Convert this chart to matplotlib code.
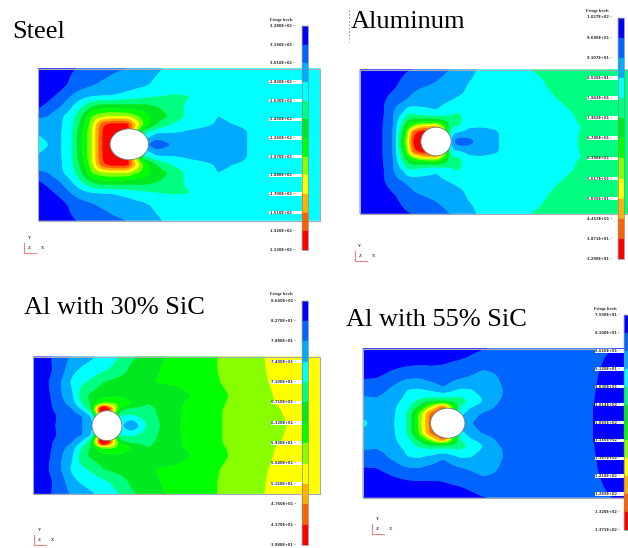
import numpy as np
import matplotlib
matplotlib.use("Agg")
import matplotlib.pyplot as plt
from matplotlib.patches import Ellipse, Rectangle

# ---------- colours (one per fringe band, blue = lowest) ----------
band_colors = ["#0000ff", "#0064ff", "#00aaff", "#00ffff", "#00ff80", "#00e820",
               "#00ff00", "#88ff00", "#ffff00", "#ffb000", "#ff6000", "#ff0000"]
band_edges = list(range(1, 12))

# ---------- Steel field (fringe band units), upper half of the plate ----------
steel_x = [115, 145, 185, 215, 245, 275, 305, 335, 380, 430, 470, 520, 570, 650, 740, 960]
steel_d = [0, 40, 60, 85, 110, 145, 180, 228]
steel_values = [
    [3.4, 3.0, 2.95, 3.9, 6.0, 7.8, 10.9, 12.5, 12.0, 2.3, 1.1, 2.1, 2.4, 2.5, 3.0, 3.3],
    [2.8, 2.6, 2.95, 3.9, 5.8, 7.8, 10.9, 12.2, 11.8, 4.5, 3.3, 3.1, 2.9, 2.7, 3.0, 3.3],
    [2.35, 2.5, 2.9, 3.8, 5.4, 7.5, 10.7, 11.6, 11.6, 7.0, 5.0, 3.8, 3.3, 2.95, 3.05, 3.3],
    [1.8, 2.0, 2.9, 3.5, 5.0, 7.0, 7.6, 7.8, 7.8, 6.5, 5.5, 4.8, 3.5, 3.0, 3.05, 3.3],
    [0.9, 1.3, 2.1, 3.0, 4.05, 5.2, 5.9, 5.9, 5.7, 5.6, 5.1, 4.5, 3.7, 3.0, 3.05, 3.3],
    [0.4, 0.7, 1.3, 2.05, 2.6, 2.9, 2.95, 3.0, 3.3, 3.7, 3.95, 4.1, 4.05, 3.2, 3.1, 3.3],
    [0.2, 0.3, 0.7, 1.2, 1.55, 1.85, 2.15, 2.3, 2.5, 2.8, 3.2, 3.4, 3.3, 3.2, 3.15, 3.3],
    [0.0, 0.2, 0.5, 0.9, 1.1, 1.3, 1.5, 1.8, 2.0, 2.5, 2.85, 3.3, 3.3, 3.2, 3.2, 3.3],
]

# ---------- Aluminum field ----------
alum_x = [90, 125, 160, 190, 205, 220, 235, 250, 275, 320, 365, 385, 415, 450, 507, 560, 603, 680, 743, 800, 895]
alum_d = [0, 30, 45, 60, 85, 120, 160, 216]
alum_values = [
    [0.2, 0.5, 1.0, 2.0, 3.9, 6.0, 8.5, 11.3, 12.5, 12.0, 2.3, 1.1, 1.5, 2.4, 3.0, 3.3, 3.5, 3.7, 4.0, 4.2, 4.4],
    [0.2, 0.5, 1.0, 2.0, 3.7, 5.2, 7.6, 10.6, 11.5, 12.0, 3.3, 3.1, 2.7, 2.7, 3.0, 3.3, 3.5, 3.7, 3.98, 4.2, 4.4],
    [0.2, 0.5, 1.0, 1.95, 3.4, 4.7, 6.4, 7.5, 9.0, 9.5, 4.0, 4.0, 3.1, 3.05, 3.1, 3.3, 3.5, 3.7, 3.95, 4.2, 4.4],
    [0.2, 0.5, 0.97, 1.9, 3.1, 4.2, 5.2, 5.6, 5.9, 6.0, 4.5, 4.4, 3.2, 3.1, 3.2, 3.3, 3.5, 3.7, 4.02, 4.2, 4.4],
    [0.2, 0.5, 0.9, 1.9, 2.7, 3.0, 3.95, 3.8, 3.4, 3.1, 3.8, 4.1, 3.4, 3.1, 3.2, 3.3, 3.5, 3.8, 4.05, 4.2, 4.4],
    [0.2, 0.45, 0.9, 1.5, 1.75, 1.97, 2.2, 2.4, 2.65, 2.7, 3.05, 3.2, 3.2, 3.25, 3.3, 3.4, 3.5, 3.95, 4.2, 4.3, 4.4],
    [0.1, 0.3, 0.55, 0.9, 1.1, 1.3, 1.5, 1.8, 2.0, 2.2, 2.5, 2.7, 3.1, 3.25, 3.3, 3.5, 3.7, 4.15, 4.3, 4.35, 4.4],
    [0.0, 0.15, 0.3, 0.55, 0.7, 0.85, 0.95, 1.0, 1.25, 1.65, 2.05, 2.3, 2.75, 3.1, 3.4, 3.7, 4.0, 4.25, 4.35, 4.4, 4.4],
]

# ---------- Al with 30% SiC field ----------
sic30_x = [100, 155, 185, 215, 245, 275, 310, 360, 395, 440, 490, 540, 600, 660, 730, 790, 850, 960]
sic30_d = [0, 30, 50, 65, 90, 130, 165, 206]
sic30_values = [
    [0.2, 0.8, 1.3, 1.6, 1.9, 2.6, 3.0, 3.3, 1.7, 4.05, 5.2, 6.0, 6.5, 6.95, 7.4, 7.7, 7.97, 8.3],
    [0.2, 0.75, 1.25, 1.6, 1.9, 3.0, 12.0, 3.9, 3.9, 4.5, 5.3, 5.95, 6.5, 6.95, 7.4, 7.65, 8.0, 8.2],
    [0.2, 0.95, 1.4, 1.85, 3.0, 5.0, 15.0, 5.5, 4.6, 4.7, 5.3, 5.95, 6.45, 6.95, 7.35, 7.6, 8.05, 8.3],
    [0.2, 0.95, 1.7, 2.4, 4.0, 5.3, 7.0, 7.0, 6.1, 5.0, 5.3, 5.95, 6.4, 6.9, 7.3, 7.7, 8.2, 8.3],
    [0.2, 1.05, 1.95, 2.7, 4.6, 5.3, 5.7, 5.8, 5.3, 5.0, 5.0, 5.6, 6.3, 6.85, 7.25, 7.7, 8.3, 8.4],
    [0.2, 1.15, 2.05, 3.15, 3.8, 4.2, 5.0, 5.5, 5.8, 5.95, 6.1, 6.3, 6.5, 7.0, 7.3, 7.9, 8.3, 8.5],
    [0.2, 0.95, 1.6, 2.7, 3.2, 3.5, 3.85, 4.45, 5.3, 5.6, 6.1, 6.3, 6.6, 7.05, 7.5, 7.95, 8.3, 8.5],
    [0.2, 1.0, 1.5, 2.1, 2.45, 2.85, 3.3, 4.05, 4.8, 5.35, 5.95, 6.3, 6.65, 7.05, 7.55, 7.98, 8.3, 8.5],
]

# ---------- Al with 55% SiC field ----------
sic55_x = [99, 140, 195, 230, 250, 270, 300, 340, 390, 425, 460, 505, 530, 600, 700, 790, 850, 895]
sic55_d = [0, 30, 50, 65, 80, 105, 145, 190, 224]
sic55_values = [
    [3.3, 2.5, 3.0, 4.0, 5.5, 7.5, 10.4, 10.0, 2.0, 2.0, 1.6, 1.4, 1.3, 1.2, 1.1, 1.0, 0.8, 0.6],
    [2.6, 2.3, 2.95, 3.95, 5.3, 7.3, 10.2, 11.5, 3.5, 2.3, 1.9, 1.55, 1.3, 1.2, 1.1, 1.0, 0.8, 0.6],
    [2.4, 2.2, 2.9, 3.6, 4.3, 5.2, 7.5, 10.5, 3.9, 3.05, 2.5, 1.85, 1.4, 1.25, 1.1, 1.0, 0.8, 0.6],
    [2.25, 2.1, 2.7, 3.5, 3.9, 4.4, 4.9, 5.0, 4.6, 3.7, 2.9, 2.0, 1.6, 1.3, 1.1, 1.01, 0.8, 0.6],
    [2.0, 1.95, 2.35, 3.2, 3.5, 3.6, 3.8, 3.6, 3.95, 3.3, 2.9, 2.2, 1.75, 1.3, 1.1, 1.01, 0.82, 0.6],
    [1.6, 1.55, 2.2, 2.9, 2.95, 2.95, 2.6, 2.0, 2.9, 2.95, 2.45, 2.15, 1.85, 1.3, 1.1, 1.02, 0.85, 0.6],
    [0.7, 0.8, 1.3, 1.55, 1.6, 1.6, 1.35, 1.3, 1.6, 1.95, 2.3, 1.95, 1.5, 1.2, 1.05, 1.03, 0.9, 0.55],
    [0.3, 0.35, 0.45, 0.55, 0.6, 0.65, 0.75, 0.85, 0.98, 1.1, 1.3, 1.4, 1.35, 1.2, 1.05, 1.05, 0.95, 0.5],
    [0.2, 0.2, 0.25, 0.3, 0.35, 0.4, 0.5, 0.6, 0.75, 0.85, 0.95, 1.1, 1.15, 1.15, 1.05, 1.05, 1.0, 0.8],
]

# ---------- text ----------
heading = "Fringe levels"
steel_labels = ["3.380E+02", "3.190E+02", "3.010E+02", "2.820E+02", "2.630E+02", "2.450E+02", "2.260E+02",
                "2.070E+02", "1.880E+02", "1.700E+02", "1.510E+02", "1.320E+02", "1.130E+02"]
alum_labels = ["1.027E+02", "9.689E+01", "9.107E+01", "8.525E+01", "7.943E+01", "7.362E+01", "6.780E+01",
               "6.198E+01", "5.617E+01", "5.035E+01", "4.453E+01", "3.871E+01", "3.290E+01"]
sic30_labels = ["8.660E+01", "8.270E+01", "7.880E+01", "7.490E+01", "7.100E+01", "6.710E+01", "6.320E+01",
                "5.930E+01", "5.540E+01", "5.150E+01", "4.760E+01", "4.370E+01", "3.980E+01"]
sic55_labels = ["7.590E+01", "8.100E+01", "8.610E+01", "9.120E+01", "9.630E+01", "1.014E+02", "1.065E+02",
                "1.116E+02", "1.167E+02", "1.218E+02", "1.269E+02", "1.320E+02", "1.371E+02"]

# ---------- layout (pixels of the picture) ----------
panels = [
    dict(title="Steel", tx=12, ty=38, ox=0, oy=0, c=433.5, xs=steel_x, ds=steel_d, vals=steel_values,
         hole=(129.3, 144.3, 19.3, 15.5), bar=(302, 308, 26, 250), lab_x=269.5, head=(269.5, 20), labels=steel_labels,
         triad=(24, 253)),
    dict(title="Aluminum", tx=351, ty=28, ox=330, oy=0, c=425, xs=alum_x, ds=alum_d, vals=alum_values,
         hole=(436, 141.5, 15.2, 14.3), bar=(617.5, 624, 17.5, 259), lab_x=587, head=(586, 11), labels=alum_labels,
         triad=(355, 261)),
    dict(title="Al with 30% SiC", tx=24, ty=314, ox=0, oy=278, c=442.5, xs=sic30_x, ds=sic30_d, vals=sic30_values,
         hole=(107, 425.7, 15, 15), bar=(302, 308, 300.5, 545), lab_x=271, head=(270, 294), labels=sic30_labels,
         triad=(34, 545)),
    dict(title="Al with 55% SiC", tx=346, ty=326, ox=330, oy=278, c=435.5, xs=sic55_x, ds=sic55_d, vals=sic55_values,
         hole=(447.7, 423.2, 17.3, 15), bar=(624, 630, 315, 530), lab_x=595, head=(594.5, 309), labels=sic55_labels,
         triad=(372, 534)),
]


def resample(xs, ys, field, kernel=7):
    """Put the hand-read table on a 1 px grid and soften the corners of the coarse cells."""
    fx = np.arange(xs[0], xs[-1] + 0.5, 1.0)
    fy = np.arange(ys[0], ys[-1] + 0.5, 1.0)
    a = np.array([np.interp(fx, xs, row) for row in field])
    b = np.array([np.interp(fy, ys, col) for col in a.T]).T
    k = np.hanning(kernel + 2)[1:-1]
    k = k / k.sum()
    pad = kernel // 2
    p = np.pad(b, pad, mode="edge")
    p = np.apply_along_axis(lambda r: np.convolve(r, k, mode="same"), 0, p)
    p = np.apply_along_axis(lambda r: np.convolve(r, k, mode="same"), 1, p)
    return fx, fy, p[pad:-pad, pad:-pad]


fig = plt.figure(figsize=(6.28, 5.48), dpi=100)
ax = fig.add_axes([0, 0, 1, 1])
ax.set_xlim(0, 628)
ax.set_ylim(548, 0)
ax.axis("off")

serif = "Liberation Serif"
for p in panels:
    half = np.array(p["vals"], dtype=float)
    d = np.array(p["ds"], dtype=float)
    field = np.vstack([half[::-1], half[1:]])
    ys = p["oy"] + (p["c"] + np.concatenate([-d[::-1], d[1:]])) / 3
    xs = p["ox"] + np.array(p["xs"], dtype=float) / 3
    fx, fy, ff = resample(xs, ys, field)
    cs = ax.contourf(fx, fy, ff, levels=band_edges, colors=band_colors, extend="both",
                     antialiased=True, zorder=1)
    cs.set_edgecolor("face")
    cs.set_linewidth(0.35)
    # plate outline
    ax.add_patch(Rectangle((xs[0], ys[0]), xs[-1] - xs[0], ys[-1] - ys[0], fill=False,
                           ec="#a8a8b4", lw=0.8, zorder=2))
    # hole
    hx, hy, rx, ry = p["hole"]
    ax.add_patch(Ellipse((hx, hy), 2 * rx, 2 * ry, fc="white", ec="#777777", lw=0.6, zorder=3))
    # fringe bar
    bx0, bx1, by0, by1 = p["bar"]
    seg = (by1 - by0) / 12
    for i, col in enumerate(band_colors):
        ax.bar((bx0 + bx1) / 2, seg, width=bx1 - bx0, bottom=by0 + i * seg, color=col,
               edgecolor=col, linewidth=0.2, zorder=5)
    ax.add_patch(Rectangle((bx0, by0), bx1 - bx0, by1 - by0, fill=False, ec="#8a8a8a", lw=0.5, zorder=6))
    # labels
    ax.text(p["head"][0], p["head"][1], heading, fontsize=3.1, fontweight="bold", family=serif,
            ha="left", va="center", color="#222222", zorder=7)
    for i, lab in enumerate(p["labels"]):
        ly = by0 + i * seg
        if ys[0] < ly < ys[-1]:
            ax.add_patch(Rectangle((p["lab_x"] - 0.5, ly - 1.8), bx0 - p["lab_x"] + 0.5, 3.6,
                                   fc="white", ec="none", zorder=4))
        ax.text(p["lab_x"], ly, lab + " -", fontsize=2.6, fontweight="bold", family="DejaVu Sans",
                ha="left", va="center", color="#333333", zorder=7)
    # title
    ax.text(p["tx"], p["ty"], p["title"], fontsize=19, family=serif, ha="left", va="baseline",
            color="black", zorder=8)
    # axis triad
    tx, ty = p["triad"]
    ax.plot([tx, tx, tx + 12], [ty - 10, ty, ty], color="#f08080", lw=0.8, zorder=7)
    ax.text(tx + 5, ty - 15, "Y", fontsize=3.2, fontweight="bold", family=serif, ha="center", va="center", color="#333333")
    ax.text(tx + 5, ty - 5, "Z", fontsize=3.2, fontweight="bold", family=serif, ha="center", va="center", color="#333333")
    ax.text(tx + 18, ty - 5, "X", fontsize=3.2, fontweight="bold", family=serif, ha="center", va="center", color="#333333")

ax.plot([349, 349], [10, 42], color="#555555", lw=0.5, ls=(0, (2, 3)), zorder=7)
fig.savefig("out.png", dpi=100)
